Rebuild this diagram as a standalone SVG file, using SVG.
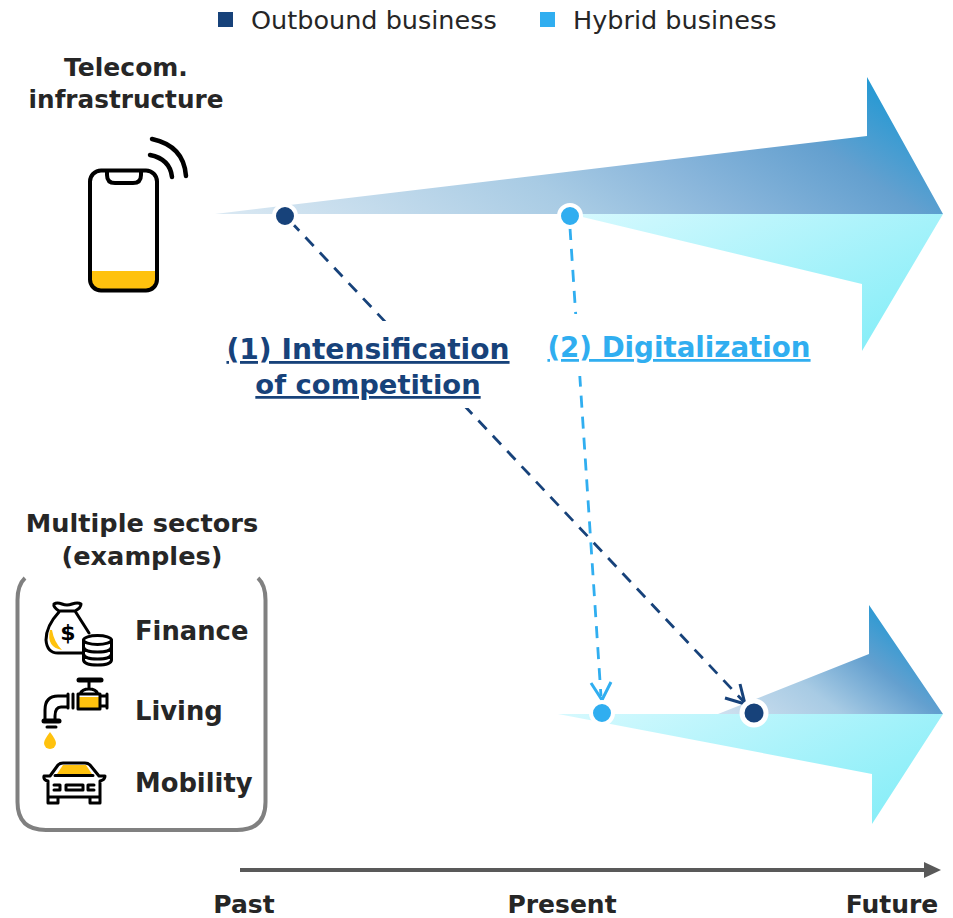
<svg xmlns="http://www.w3.org/2000/svg" width="953" height="918" viewBox="0 0 953 918">
<style>
text{font-family:"DejaVu Sans","Liberation Sans",sans-serif;fill:#262626}
.b{font-weight:700;font-size:25.800px}
.l{font-size:25.500px}
.m{text-anchor:middle}
.t{font-weight:700;font-size:28.100px;text-anchor:middle;text-decoration:underline;text-decoration-skip-ink:none;text-decoration-thickness:1.500px;text-underline-offset:4px}
.ic{fill:none;stroke:#000;stroke-width:3;stroke-linecap:round;stroke-linejoin:round}
.y{fill:#ffc20e}
.dn{fill:none;stroke:#17427a;stroke-width:2.800;stroke-dasharray:12 9}
.dl{fill:none;stroke:#30aef0;stroke-width:2.800;stroke-dasharray:12 9}
.dot{stroke:#fff;stroke-width:4}
</style>
<defs>
<linearGradient id="gu" gradientUnits="userSpaceOnUse" x1="520" y1="420" x2="800" y2="0"><stop offset="0" stop-color="#dbe9f3"/><stop offset="0.41" stop-color="#a8cbe4"/><stop offset="0.58" stop-color="#8ab6db"/><stop offset="0.78" stop-color="#64a0cf"/><stop offset="0.95" stop-color="#2299d4"/></linearGradient>
<linearGradient id="gl" gradientUnits="userSpaceOnUse" x1="679" y1="164" x2="782" y2="388"><stop offset="0" stop-color="#d6f9fe"/><stop offset="1" stop-color="#88eef8"/></linearGradient>
<linearGradient id="gu2" gradientUnits="userSpaceOnUse" x1="772" y1="756" x2="885" y2="609"><stop offset="0" stop-color="#cfe0ef"/><stop offset="0.41" stop-color="#a8cbe4"/><stop offset="0.72" stop-color="#64a0cf"/><stop offset="0.96" stop-color="#2f9ad3"/></linearGradient>
<linearGradient id="gl2" gradientUnits="userSpaceOnUse" x1="711" y1="637" x2="818" y2="851"><stop offset="0" stop-color="#d6f9fe"/><stop offset="1" stop-color="#88eef8"/></linearGradient>
</defs>

<g id="legend">
<rect x="218" y="12" width="15" height="15" fill="#17427a"/>
<text class="l" x="251" y="29">Outbound business</text>
<rect x="540" y="12" width="15" height="15" fill="#30aef0"/>
<text class="l" x="573" y="29">Hybrid business</text>
</g>

<g id="arrow-top">
<polygon points="570,214 943,214 862,351 862,284" fill="url(#gl)"/>
<polygon points="215,214 867,136 867,77 943,214" fill="url(#gu)"/>
</g>
<g id="arrow-bottom">
<polygon points="558,714 943,714 872,824 872,774" fill="url(#gl2)"/>
<polygon points="718,714 869,654 869,605 943,714" fill="url(#gu2)"/>
</g>

<g id="connectors">
<path class="dn" d="M291,222 L745,703"/>
<path class="dl" d="M570,228 L601,696"/>
<path d="M725,698 L745,704 L740,684" fill="none" stroke="#17427a" stroke-width="3"/>
<path d="M591,683 L602,700 L611,682" fill="none" stroke="#30aef0" stroke-width="3"/>
<rect x="226" y="321" width="290" height="87" fill="#fff"/>
<rect x="546" y="314" width="266" height="62" fill="#fff"/>
</g>

<g id="dot-a"><circle class="dot" cx="285" cy="216" r="11" fill="#17427a"/></g>
<g id="dot-b"><circle class="dot" cx="570" cy="216" r="11" fill="#30aef0"/></g>
<g id="dot-c"><circle class="dot" cx="602" cy="713" r="11" fill="#30aef0"/></g>
<g id="dot-d"><circle cx="754" cy="713" r="12" fill="#17427a" stroke="#fff" stroke-width="5"/></g>

<g id="label-1">
<text class="t" x="368" y="359" style="fill:#17427a">(1) Intensification</text>
<text class="t" x="368" y="394" style="fill:#17427a;font-size:27.400px">of competition</text>
</g>
<g id="label-2">
<text class="t" x="679" y="357" style="fill:#30aef0;font-size:27.700px">(2) Digitalization</text>
</g>

<g id="telecom">
<text class="b m" x="126" y="76" style="font-size:25px">Telecom.</text>
<text class="b m" x="126" y="108" style="font-size:24.700px">infrastructure</text>
<path class="y" d="M91,271 H156 V281 Q156,290 147,290 H100 Q91,290 91,281 Z"/>
<rect class="ic" x="90" y="170.500" width="67" height="120" rx="11" style="stroke-width:4"/>
<path class="ic" d="M107,171 V175 Q107,183 115,183 H133 Q141,183 141,175 V171" style="stroke-width:4"/>
<path class="ic" d="M150,155 Q170,159 172,177" style="stroke-width:4.500"/>
<path class="ic" d="M152,139 Q184,146 186,176" style="stroke-width:4.500"/>
</g>

<g id="sectors">
<text class="b m" x="142" y="532" style="font-size:25.600px">Multiple sectors</text>
<text class="b m" x="142" y="565" style="font-size:25.600px">(examples)</text>
<path d="M25,578 Q17.500,585 17.500,600 V802 Q17.500,830 46,830 H237 Q265.500,830 265.500,802 V600 Q265.500,585 258,578" fill="none" stroke="#808080" stroke-width="4"/>
</g>

<g id="finance">
<path class="y" d="M50,630 Q46,647 62,650 Q54,642 52,630 Z"/>
<path class="ic" d="M59,612 Q46,626 46,640 Q47,653 58,653 H83 M59,611 H75 L89,633 M59,611 Q53,607 54,604 Q57,602 62,604 Q67,606 72,604 Q78,602 81,604 Q81,608 75,611"/>
<text x="68" y="640" style="font-size:22px;font-weight:700;fill:#000;text-anchor:middle">$</text>
<ellipse cx="97.500" cy="640" rx="14" ry="4.500" fill="#fff" stroke="#000" stroke-width="3"/>
<path class="ic" d="M83.500,640 V660 Q84,665 97.500,665 Q111,665 111.500,660 V640 M83.500,647 Q84,652 97.500,652 Q111,652 111.500,647 M83.500,654 Q84,659 97.500,659 Q111,659 111.500,654"/>
<text class="b" x="135" y="640">Finance</text>
</g>

<g id="living">
<rect class="y" x="79" y="697" width="20" height="11"/>
<path class="ic" d="M78,694 H100 V709 H78 Z M80,694 Q82,689 89,689 Q96,689 98,694 M89,682 V689 M100,696 H107 M100,706 H107 M107,694 V708 M68,694 V708 M73,694 V708 M67,696 H58 Q45,696 45,710 V719 M67,707 H61 Q55,707 55,716 V719 M47,727 H56"/>
<path d="M79,680 H101" stroke="#000" stroke-width="5" stroke-linecap="round"/>
<path d="M44,721 H59" stroke="#000" stroke-width="5" stroke-linecap="round"/>
<path class="y" d="M50,732 Q44,740 44,743 A6,6 0 0 0 56,743 Q56,740 50,732 Z"/>
<text class="b" x="135" y="720">Living</text>
</g>

<g id="mobility">
<path class="y" d="M57,774 L63,765 H86 L92,774 Z"/>
<path class="ic" d="M50,776 L58,765 Q60,763 63,763 H85 Q88,763 90,765 L99,776 M55,775.500 H93 M50,776 H44 Q43,780 48,781 V797 H100 V781 Q105,780 105,776 H99 M48,797 V803 H58 V797 M90,797 V803 H100 V797 M54,785 H60 V790 H54 M94,785 H88 V790 H94 M66,785 H83 V790 H66 Z"/>
<text class="b" x="135" y="792">Mobility</text>
</g>

<g id="timeline">
<path d="M240,870 H930" stroke="#595959" stroke-width="4"/>
<polygon points="924,862 941,870 924,878" fill="#595959"/>
<text class="b m" x="244" y="913" style="font-size:25px">Past</text>
<text class="b m" x="562" y="913" style="font-size:25px">Present</text>
<text class="b m" x="892" y="913" style="font-size:25px">Future</text>
</g>
</svg>
